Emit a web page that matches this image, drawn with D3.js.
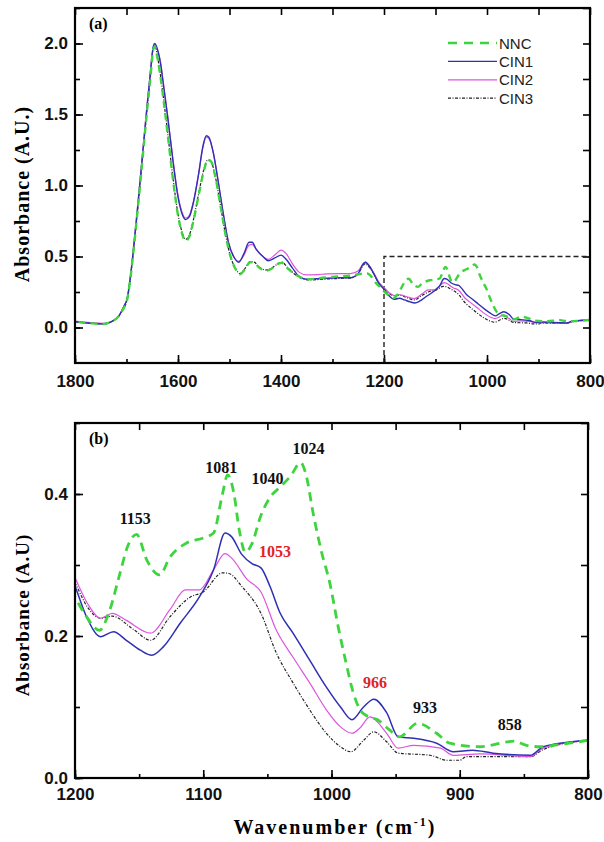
<!DOCTYPE html>
<html>
<head>
<meta charset="utf-8">
<script src="https://cdn.jsdelivr.net/npm/d3@7"></script>
<style>
  body { margin: 0; background: #fff; }
  svg { display: block; }
</style>
</head>
<body>
<svg id="chart"></svg>
<script>
// FTIR spectra: [wavenumber, absorbance]
const nnc = [
  [1800, 0.04], [1770, 0.03], [1745, 0.025], [1730, 0.04], [1715, 0.08], [1705, 0.14], [1699, 0.19],
  [1693, 0.33], [1687, 0.52], [1678, 0.84], [1668, 1.22], [1660, 1.53], [1654, 1.74], [1648, 1.96],
  [1645, 1.98], [1640, 1.9], [1635, 1.79], [1628, 1.6], [1620, 1.36], [1610, 1.05], [1600, 0.79],
  [1592, 0.66], [1585, 0.61], [1578, 0.64], [1570, 0.75], [1560, 0.93], [1550, 1.1], [1542, 1.18],
  [1536, 1.17], [1528, 1.07], [1518, 0.87], [1508, 0.66], [1498, 0.5], [1488, 0.41], [1480, 0.375],
  [1470, 0.41], [1460, 0.46], [1452, 0.455], [1442, 0.42], [1430, 0.4], [1420, 0.41], [1405, 0.45],
  [1398, 0.455], [1388, 0.42], [1375, 0.38], [1360, 0.35], [1345, 0.34], [1320, 0.35], [1290, 0.36],
  [1265, 0.365], [1250, 0.375], [1240, 0.38], [1232, 0.38], [1225, 0.36], [1215, 0.31], [1208, 0.285],
  [1200, 0.255], [1192, 0.23], [1181, 0.208], [1173, 0.236], [1165, 0.288], [1159, 0.326],
  [1152, 0.343], [1144, 0.307], [1134, 0.286], [1126, 0.311], [1113, 0.331], [1100, 0.338],
  [1092, 0.345], [1085, 0.4], [1081, 0.427], [1076, 0.4], [1072, 0.35], [1067, 0.318], [1062, 0.33],
  [1055, 0.37], [1048, 0.395], [1040, 0.41], [1032, 0.425], [1024, 0.444], [1020, 0.428],
  [1014, 0.37], [1008, 0.32], [1001, 0.272], [995, 0.215], [989, 0.165], [983, 0.12], [978, 0.097],
  [972, 0.087], [964, 0.082], [955, 0.068], [947, 0.058], [933, 0.077], [918, 0.063], [908, 0.049],
  [884, 0.044], [863, 0.051], [858, 0.052], [848, 0.046], [837, 0.044], [827, 0.046], [800, 0.053]
];
const cin1 = [
  [1800, 0.04], [1770, 0.03], [1745, 0.025], [1730, 0.04], [1715, 0.08], [1705, 0.15], [1699, 0.2],
  [1693, 0.34], [1687, 0.53], [1678, 0.86], [1668, 1.25], [1660, 1.56], [1654, 1.78], [1648, 1.98],
  [1645, 2.0], [1640, 1.96], [1634, 1.86], [1628, 1.7], [1620, 1.48], [1610, 1.18], [1600, 0.92],
  [1592, 0.8], [1585, 0.76], [1578, 0.78], [1570, 0.88], [1560, 1.08], [1552, 1.27], [1545, 1.35],
  [1540, 1.34], [1532, 1.24], [1522, 1.03], [1512, 0.8], [1502, 0.6], [1492, 0.5], [1482, 0.46],
  [1472, 0.52], [1462, 0.6], [1456, 0.6], [1448, 0.55], [1435, 0.5], [1425, 0.47], [1412, 0.49],
  [1400, 0.51], [1390, 0.48], [1378, 0.42], [1365, 0.36], [1350, 0.34], [1320, 0.345], [1290, 0.35],
  [1265, 0.35], [1250, 0.38], [1240, 0.45], [1236, 0.46], [1230, 0.44], [1220, 0.38], [1210, 0.31],
  [1200, 0.27], [1191, 0.227], [1180, 0.199], [1170, 0.206], [1160, 0.194], [1149, 0.18],
  [1140, 0.173], [1131, 0.185], [1118, 0.218], [1103, 0.255], [1092, 0.293], [1083, 0.345],
  [1078, 0.34], [1070, 0.315], [1062, 0.302], [1055, 0.296], [1048, 0.27], [1040, 0.232],
  [1030, 0.204], [1017, 0.166], [1004, 0.128], [993, 0.1], [984, 0.082], [975, 0.1], [967, 0.111],
  [957, 0.092], [948, 0.058], [936, 0.056], [918, 0.049], [905, 0.037], [890, 0.039], [874, 0.035],
  [845, 0.032], [835, 0.044], [800, 0.053]
];
const cin2 = [
  [1800, 0.045], [1770, 0.035], [1745, 0.03], [1730, 0.04], [1715, 0.08], [1705, 0.15], [1699, 0.2],
  [1693, 0.34], [1687, 0.54], [1678, 0.87], [1668, 1.26], [1660, 1.57], [1654, 1.79], [1648, 1.97],
  [1645, 1.99], [1640, 1.96], [1634, 1.87], [1628, 1.71], [1620, 1.49], [1610, 1.19], [1600, 0.93],
  [1592, 0.81], [1585, 0.77], [1578, 0.79], [1570, 0.89], [1560, 1.08], [1552, 1.26], [1545, 1.34],
  [1540, 1.33], [1532, 1.24], [1522, 1.03], [1512, 0.8], [1502, 0.6], [1492, 0.5], [1482, 0.465],
  [1472, 0.51], [1462, 0.58], [1456, 0.585], [1448, 0.55], [1435, 0.5], [1425, 0.48], [1412, 0.51],
  [1400, 0.545], [1390, 0.52], [1378, 0.45], [1365, 0.39], [1350, 0.37], [1320, 0.375], [1290, 0.38],
  [1265, 0.38], [1250, 0.4], [1240, 0.45], [1236, 0.46], [1230, 0.44], [1220, 0.385], [1210, 0.32],
  [1200, 0.282], [1190, 0.245], [1180, 0.225], [1171, 0.232], [1160, 0.222], [1141, 0.204],
  [1126, 0.237], [1114, 0.265], [1103, 0.265], [1092, 0.293], [1083, 0.316], [1078, 0.31],
  [1066, 0.28], [1055, 0.262], [1043, 0.208], [1030, 0.17], [1017, 0.134], [1004, 0.096],
  [993, 0.072], [984, 0.063], [978, 0.07], [970, 0.086], [957, 0.063], [948, 0.042], [936, 0.046],
  [915, 0.042], [905, 0.032], [884, 0.034], [845, 0.03], [835, 0.042], [800, 0.053]
];
const cin3 = [
  [1800, 0.04], [1770, 0.03], [1745, 0.025], [1730, 0.04], [1715, 0.08], [1705, 0.14], [1699, 0.19],
  [1693, 0.33], [1687, 0.52], [1678, 0.84], [1668, 1.23], [1660, 1.54], [1654, 1.75], [1648, 1.97],
  [1645, 1.99], [1640, 1.91], [1635, 1.8], [1628, 1.61], [1620, 1.37], [1610, 1.06], [1600, 0.8],
  [1592, 0.67], [1585, 0.62], [1578, 0.65], [1570, 0.76], [1560, 0.94], [1550, 1.11], [1542, 1.18],
  [1536, 1.17], [1528, 1.07], [1518, 0.87], [1508, 0.66], [1498, 0.5], [1488, 0.415], [1480, 0.38],
  [1470, 0.415], [1460, 0.465], [1452, 0.46], [1442, 0.425], [1430, 0.405], [1420, 0.415],
  [1405, 0.45], [1398, 0.46], [1388, 0.425], [1375, 0.38], [1360, 0.345], [1345, 0.335],
  [1320, 0.34], [1290, 0.345], [1265, 0.35], [1250, 0.38], [1240, 0.44], [1236, 0.45], [1230, 0.43],
  [1220, 0.38], [1210, 0.31], [1200, 0.275], [1190, 0.24], [1180, 0.225], [1171, 0.228],
  [1155, 0.21], [1141, 0.194], [1126, 0.227], [1110, 0.255], [1100, 0.262], [1085, 0.289],
  [1080, 0.288], [1070, 0.27], [1055, 0.232], [1043, 0.176], [1030, 0.134], [1017, 0.096],
  [1004, 0.063], [993, 0.044], [985, 0.037], [975, 0.053], [967, 0.065], [957, 0.051], [948, 0.035],
  [923, 0.032], [910, 0.025], [900, 0.025], [895, 0.03], [845, 0.03], [835, 0.04], [800, 0.053]
];

const seriesNames = ['CIN3', 'CIN2', 'CIN1', 'NNC'];
const seriesData = [cin3, cin2, cin1, nnc];
const legendOrder = ['NNC', 'CIN1', 'CIN2', 'CIN3'];

// peak labels in panel (b): [wavenumber, absorbance at label baseline, text, red?]
const peakLabels = [
  [1153, 0.358, '1153', false],
  [1086, 0.43, '1081', false],
  [1050, 0.414, '1040', false],
  [1018, 0.456, '1024', false],
  [1044, 0.311, '1053', true],
  [966, 0.127, '966', true],
  [927, 0.092, '933', false],
  [861, 0.068, '858', false]
];

const xTicksA = [1800, 1600, 1400, 1200, 1000, 800];
const yTicksA = [0.0, 0.5, 1.0, 1.5, 2.0];
const xTicksB = [1200, 1100, 1000, 900, 800];
const yTicksB = [0.0, 0.2, 0.4];

const style = {
  NNC: { color: '#3ed43e', width: [2.4, 2.8], dash: ['7,5', '9,6'] },
  CIN1: { color: '#2f2fb4', width: [1.4, 1.5], dash: [null, null] },
  CIN2: { color: '#dd55dd', width: [1.2, 1.2], dash: [null, null] },
  CIN3: { color: '#222', width: [1.2, 1.2], dash: ['3,1.5,1,1.5', '3,1.5,1,1.5'] },
};

const svg = d3.select('#chart').attr('width', 604).attr('height', 842);

const panels = [
  {
    id: 'a', left: 75, right: 590, top: 8, bottom: 363,
    xDomain: [1800, 800], yDomain: [-0.25, 2.25],
    xMajor: xTicksA, xMinor: d3.range(800, 1801, 100),
    yMajor: yTicksA, yMinor: d3.range(0, 2.26, 0.25),
    xPad: 12, yTitle: 'Absorbance (A.U.)', titleY: 194, titleSize: 20,
  },
  {
    id: 'b', left: 75, right: 588, top: 423, bottom: 778,
    xDomain: [1200, 800], yDomain: [0, 0.5],
    xMajor: xTicksB, xMinor: d3.range(800, 1201, 50),
    yMajor: yTicksB, yMinor: d3.range(0, 0.51, 0.1),
    xPad: 10, yTitle: 'Absorbance (A.U)', titleY: 615, titleSize: 19,
  },
];

panels.forEach((p, pi) => drawPanel(p, pi));

function drawPanel(p, pi) {
  const x = d3.scaleLinear().domain(p.xDomain).range([p.left, p.right]);
  const y = d3.scaleLinear().domain(p.yDomain).range([p.bottom, p.top]);
  const g = svg.append('g');

  g.append('clipPath')
    .attr('id', 'clip-' + p.id)
    .append('rect')
    .attr('x', p.left)
    .attr('y', p.top)
    .attr('width', p.right - p.left)
    .attr('height', p.bottom - p.top);

  // ticks, inward on all four sides
  const tickFont = (sel) =>
    sel.selectAll('text')
      .style('font-family', '"Liberation Sans", Arial, sans-serif')
      .style('font-weight', 'bold')
      .style('font-size', '17px')
      .style('fill', '#111');

  const axes = [
    [d3.axisBottom(x).tickValues(p.xMajor).tickFormat(d3.format('d')), `translate(0,${p.bottom})`, 8, p.xPad],
    [d3.axisBottom(x).tickValues(p.xMinor).tickFormat(''), `translate(0,${p.bottom})`, 4, 0],
    [d3.axisTop(x).tickValues(p.xMinor).tickFormat(''), `translate(0,${p.top})`, 7, 0],
    [d3.axisLeft(y).tickValues(p.yMajor).tickFormat(d3.format('.1f')), `translate(${p.left},0)`, 8, 7],
    [d3.axisLeft(y).tickValues(p.yMinor).tickFormat(''), `translate(${p.left},0)`, 5, 0],
    [d3.axisRight(y).tickValues(p.yMinor).tickFormat(''), `translate(${p.right},0)`, 7, 0],
  ];
  axes.forEach(([axis, tr, len, pad]) => {
    const a = g.append('g')
      .attr('transform', tr)
      .call(axis.tickSize(-len).tickPadding(pad));
    a.select('.domain').remove();
    a.selectAll('line').attr('stroke', '#000').attr('stroke-width', 1.6);
    tickFont(a);
  });

  // zoom box in panel (a)
  if (p.id === 'a') {
    g.append('path')
      .attr('d', `M${x(1200)},${p.bottom} V${y(0.5)} H${p.right}`)
      .attr('fill', 'none')
      .attr('stroke', '#222')
      .attr('stroke-width', 1.4)
      .attr('stroke-dasharray', '5,3');
  }

  const line = d3.line()
    .x((d) => x(d[0]))
    .y((d) => y(d[1]))
    .curve(d3.curveMonotoneX);

  const curves = g.append('g').attr('clip-path', `url(#clip-${p.id})`);
  seriesNames.forEach((name, i) => {
    const s = style[name];
    const pts = seriesData[i]
      .filter((d) => d[0] <= p.xDomain[0] + 10 && d[0] >= p.xDomain[1] - 10)
      .slice()
      .sort((a, b) => a[0] - b[0]);
    curves.append('path')
      .datum(pts)
      .attr('d', line)
      .attr('fill', 'none')
      .attr('stroke', s.color)
      .attr('stroke-width', s.width[pi])
      .attr('stroke-dasharray', s.dash[pi]);
  });

  // frame
  g.append('rect')
    .attr('x', p.left)
    .attr('y', p.top)
    .attr('width', p.right - p.left)
    .attr('height', p.bottom - p.top)
    .attr('fill', 'none')
    .attr('stroke', '#000')
    .attr('stroke-width', 2.2);

  g.append('text')
    .attr('x', p.left + 14)
    .attr('y', p.top + 21)
    .style('font-family', '"Liberation Serif", "Times New Roman", serif')
    .style('font-weight', 'bold')
    .style('font-size', '16px')
    .text(`(${p.id})`);

  g.append('text')
    .attr('transform', `translate(29,${p.titleY}) rotate(-90)`)
    .attr('text-anchor', 'middle')
    .style('font-family', '"Liberation Serif", "Times New Roman", serif')
    .style('font-weight', 'bold')
    .style('font-size', p.titleSize + 'px')
    .style('letter-spacing', '1px')
    .text(p.yTitle);

  if (p.id === 'a') drawLegend(g);
  if (p.id === 'b') drawPeakLabels(g, x, y);
}

function drawLegend(g) {
  legendOrder.forEach((name, i) => {
    const s = style[name];
    const yy = 43 + i * 18.4;
    g.append('line')
      .attr('x1', 448)
      .attr('x2', 497)
      .attr('y1', yy)
      .attr('y2', yy)
      .attr('stroke', s.color)
      .attr('stroke-width', name === 'NNC' ? 2.6 : s.width[0])
      .attr('stroke-dasharray', name === 'NNC' ? '9,7' : s.dash[0]);
    g.append('text')
      .attr('x', 499)
      .attr('y', yy + 5.5)
      .style('font-family', '"Liberation Sans", Arial, sans-serif')
      .style('font-size', '15px')
      .style('fill', '#222')
      .text(name);
  });
}

function drawPeakLabels(g, x, y) {
  g.selectAll('.peak')
    .data(peakLabels)
    .enter()
    .append('text')
    .attr('class', 'peak')
    .attr('x', (d) => x(d[0]))
    .attr('y', (d) => y(d[1]))
    .attr('text-anchor', 'middle')
    .style('font-family', '"Liberation Serif", "Times New Roman", serif')
    .style('font-weight', 'bold')
    .style('font-size', '16px')
    .style('fill', (d) => (d[3] ? '#e02424' : '#111'))
    .text((d) => d[2]);
}

// x title
const xTitle = svg.append('text')
  .attr('x', 335)
  .attr('y', 834)
  .attr('text-anchor', 'middle')
  .style('font-family', '"Liberation Serif", "Times New Roman", serif')
  .style('font-weight', 'bold')
  .style('font-size', '20px')
  .style('letter-spacing', '2px');
xTitle.append('tspan').text('Wavenumber (cm');
xTitle.append('tspan').attr('dy', -8).style('font-size', '12px').text('-1');
xTitle.append('tspan').attr('dy', 8).text(')');
</script>
</body>
</html>
